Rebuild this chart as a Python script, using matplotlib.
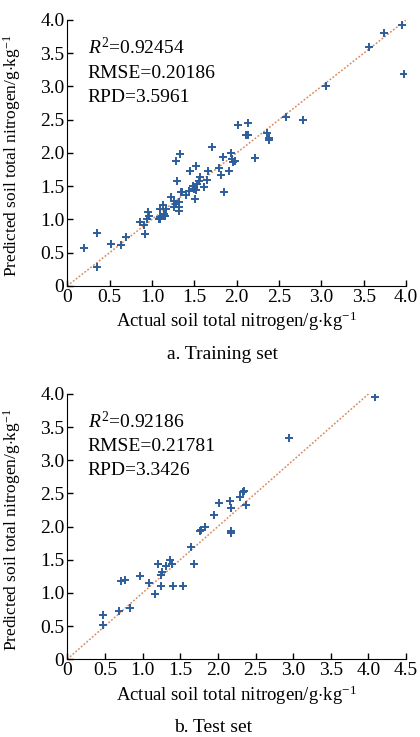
import numpy as np
import matplotlib
matplotlib.use("Agg")
import matplotlib.pyplot as plt

plt.rcParams['font.family'] = ['Liberation Serif', 'DejaVu Serif']
plt.rcParams['mathtext.fontset'] = 'custom'
plt.rcParams['mathtext.rm'] = 'Liberation Serif'
plt.rcParams['mathtext.it'] = 'Liberation Serif:italic'

# training set (actual, predicted)
train_actual = [0.20, 0.35, 0.35, 0.52, 0.64, 0.69, 0.86, 0.92, 0.91, 0.95, 0.94, 0.97,
                1.09, 1.09, 1.10, 1.14, 1.16, 1.08, 1.13, 1.17, 1.22, 1.26, 1.28, 1.26,
                1.30, 1.28, 1.33, 1.32, 1.32, 1.34, 1.36, 1.32, 1.40, 1.44, 1.45, 1.48,
                1.50, 1.52, 1.51, 1.53, 1.52, 1.55, 1.57, 1.61, 1.65, 1.66, 1.71, 1.79,
                1.81, 1.84, 1.85, 1.91, 1.93, 1.95, 1.96, 1.98, 2.02, 2.13, 2.11, 2.13,
                2.22, 2.36, 2.38, 2.38, 2.58, 2.78, 3.06, 3.56, 3.74, 3.95, 3.98]
train_pred = [0.57, 0.80, 0.29, 0.63, 0.62, 0.74, 0.96, 0.78, 0.91, 1.11, 1.00, 1.05,
              1.04, 1.16, 1.00, 1.08, 1.05, 1.00, 1.21, 1.16, 1.34, 1.28, 1.23, 1.18,
              1.58, 1.88, 1.99, 1.13, 1.26, 1.41, 1.41, 1.18, 1.36, 1.43, 1.73, 1.51,
              1.46, 1.44, 1.31, 1.53, 1.81, 1.58, 1.64, 1.49, 1.60, 1.73, 2.09, 1.78,
              1.67, 1.94, 1.42, 1.73, 2.00, 1.91, 1.86, 1.88, 2.42, 2.45, 2.27, 2.27,
              1.92, 2.30, 2.19, 2.23, 2.54, 2.49, 3.00, 3.59, 3.80, 3.92, 3.18]

# test set (actual, predicted)
test_actual = [0.47, 0.47, 0.69, 0.72, 0.77, 0.83, 0.96, 1.08, 1.16, 1.24, 1.21, 1.24,
               1.26, 1.31, 1.37, 1.39, 1.40, 1.54, 1.64, 1.69, 1.76, 1.78, 1.83, 1.95,
               2.02, 2.16, 2.18, 2.17, 2.18, 2.30, 2.33, 2.35, 2.38, 2.94, 4.09]
test_pred = [0.66, 0.52, 0.72, 1.18, 1.19, 0.78, 1.25, 1.15, 0.98, 1.10, 1.43, 1.27,
             1.31, 1.40, 1.49, 1.44, 1.10, 1.11, 1.69, 1.43, 1.94, 1.95, 2.00, 2.17,
             2.35, 2.39, 2.28, 1.93, 1.91, 2.44, 2.52, 2.53, 2.33, 3.33, 3.95]

train_stats = ["0.92454", "0.20186", "3.5961"]
test_stats = ["0.92186", "0.21781", "3.3426"]

unit = "g$\\cdot$kg$^{\\mathregular{-1}}$"
xlabel = "Actual soil total nitrogen/" + unit
ylabel = "Predicted soil total nitrogen/" + unit

fig = plt.figure(figsize=(4.2, 7.37), dpi=100)


def tick_fmt(v):
    return "0" if v == 0 else "%.1f" % v


def panel(rect, xs, ys, xmax, stats):
    ax = fig.add_axes(rect)
    ax.plot([0, 4], [0, 4], linestyle=(0, (1.2, 1.2)), color='#d98a62', linewidth=1.1, zorder=1)
    ax.plot(xs, ys, linestyle='none', marker='+', markersize=5.5, markeredgewidth=1.4,
            color='#2d5e9c', zorder=2)
    ax.set_xlim(0, xmax)
    ax.set_ylim(0, 4)
    xt = np.arange(0, xmax + 0.01, 0.5)
    yt = np.arange(0, 4.01, 0.5)
    ax.set_xticks(xt)
    ax.set_xticklabels([tick_fmt(v) for v in xt])
    ax.set_yticks(yt)
    ax.set_yticklabels([tick_fmt(v) for v in yt])
    ax.spines['top'].set_visible(False)
    ax.spines['right'].set_visible(False)
    ax.tick_params(direction='in', length=4, width=1, labelsize=14, pad=2)
    ax.set_xlabel(xlabel, fontsize=13.5, labelpad=3)
    ax.set_ylabel(ylabel, fontsize=12.5)
    ax.yaxis.set_label_coords(-0.13, 0.49)
    ax.text(0.06, 0.895, "$R^{\\mathregular{2}}$=" + stats[0], transform=ax.transAxes, fontsize=14, va='center')
    ax.text(0.06, 0.80, "RMSE=" + stats[1], transform=ax.transAxes, fontsize=14, va='center')
    ax.text(0.06, 0.71, "RPD=" + stats[2], transform=ax.transAxes, fontsize=14, va='center')
    return ax


panel([0.16, 0.612, 0.807, 0.361], train_actual, train_pred, 4.0, train_stats)
panel([0.16, 0.1055, 0.807, 0.36], test_actual, test_pred, 4.5, test_stats)

fig.text(0.53, 1 - 355 / 737, "a. Training set", fontsize=14, ha='center', va='center')
fig.text(0.507, 1 - 728 / 737, "b. Test set", fontsize=14, ha='center', va='center')

fig.savefig("out.png", dpi=100)
